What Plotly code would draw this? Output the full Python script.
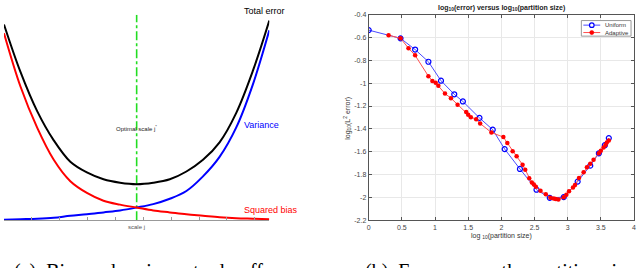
import plotly.graph_objects as go

W, H = 640, 268

# ---------------- Left panel: bias / variance trade-off (schematic) ----------------
scale_j = [0, 0.5, 1, 1.5, 2, 2.5, 3, 3.5, 4, 4.5, 5, 5.5, 6, 6.5, 7, 7.5, 8]
squared_bias = [192, 137, 95, 62, 40, 28, 20, 16, 13, 10, 8, 6, 4.5, 3, 2, 1.5, 1]
variance = [0.5, 1, 1.5, 2.5, 4.5, 6, 8, 10, 13, 16.5, 22, 30, 45, 65, 95, 139, 195]
total_error = [201, 152, 112, 82, 60, 49, 42, 38.5, 37, 38.5, 42, 50, 62, 80, 110, 153, 205]
optimal_j = 4
left_ticks = [0.84, 1.68, 2.52, 3.36, 4.2, 5.04, 5.88, 6.72, 7.56]

# ---------------- Right panel: error vs partition size ----------------
uniform_x = [0.0, 0.48, 0.70, 0.90, 1.09, 1.29, 1.42, 1.67, 1.87, 2.05, 2.28, 2.53,
             2.73, 2.94, 3.15, 3.34, 3.47, 3.56, 3.62]
uniform_y = [-0.535, -0.607, -0.705, -0.812, -0.978, -1.097, -1.16, -1.304, -1.407,
             -1.577, -1.751, -1.933, -2.004, -1.998, -1.862, -1.722, -1.614, -1.543, -1.481]
adaptive_x = [0.30, 0.48, 0.60, 0.70, 0.90, 0.96, 1.01, 1.05, 1.15, 1.24, 1.34, 1.47,
              1.50, 1.54, 1.62, 1.68, 1.85, 2.03, 2.09, 2.17, 2.23, 2.32, 2.36, 2.42,
              2.46, 2.49, 2.52, 2.59, 2.67, 2.74, 2.79, 2.82, 2.86, 2.94, 2.98, 3.02,
              3.08, 3.11, 3.17, 3.24, 3.29, 3.34, 3.39, 3.47, 3.50, 3.54, 3.57, 3.59, 3.62]
adaptive_y = [-0.579, -0.607, -0.693, -0.756, -0.938, -0.98, -0.997, -1.023, -1.091,
              -1.131, -1.188, -1.253, -1.276, -1.298, -1.316, -1.353, -1.432, -1.472,
              -1.524, -1.597, -1.64, -1.714, -1.757, -1.833, -1.87, -1.887, -1.908,
              -1.942, -1.973, -2.004, -2.01, -2.015, -2.019, -1.998, -1.976, -1.947,
              -1.913, -1.891, -1.831, -1.78, -1.737, -1.705, -1.671, -1.614, -1.592,
              -1.563, -1.541, -1.52, -1.501]
x_ticks = [0, 0.5, 1, 1.5, 2, 2.5, 3, 3.5, 4]
x_ticklabels = ["0", "0.5", "1", "1.5", "2", "2.5", "3", "3.5", "4"]
y_ticks = [-0.4, -0.6, -0.8, -1.0, -1.2, -1.4, -1.6, -1.8, -2.0, -2.2]
y_ticklabels = ["-0.4", "-0.6", "-0.8", "-1", "-1.2", "-1.4", "-1.6", "-1.8", "-2", "-2.2"]
legend_names = ["Uniform", "Adaptive"]

BLUE = "#0000ff"
RED = "#ff0000"


def px_x(p):
    return p / W


def px_y(p):
    return (H - p) / H


fig = go.Figure()

# left panel curves
fig.add_trace(go.Scatter(x=[optimal_j, optimal_j], y=[0, 211], mode="lines",
                         line=dict(color="#22dd22", width=1.6, dash="dashdot"),
                         xaxis="x", yaxis="y", showlegend=False))
fig.add_trace(go.Scatter(x=scale_j, y=variance, mode="lines", line_shape="spline",
                         line=dict(color=BLUE, width=2), xaxis="x", yaxis="y",
                         showlegend=False))
fig.add_trace(go.Scatter(x=scale_j, y=squared_bias, mode="lines", line_shape="spline",
                         line=dict(color=RED, width=2), xaxis="x", yaxis="y",
                         showlegend=False))
fig.add_trace(go.Scatter(x=scale_j, y=total_error, mode="lines", line_shape="spline",
                         line=dict(color="#000000", width=2), xaxis="x", yaxis="y",
                         showlegend=False))

# right panel
fig.add_trace(go.Scatter(x=uniform_x, y=uniform_y, mode="lines+markers", name=legend_names[0],
                         line=dict(color="#4a4aff", width=1),
                         marker=dict(symbol="circle-open", size=5, color=BLUE,
                                     line=dict(width=1.2, color=BLUE)),
                         xaxis="x2", yaxis="y2", showlegend=False))
fig.add_trace(go.Scatter(x=adaptive_x, y=adaptive_y, mode="lines+markers", name=legend_names[1],
                         line=dict(color="#ff5050", width=1),
                         marker=dict(symbol="circle", size=4.5, color=RED),
                         xaxis="x2", yaxis="y2", showlegend=False))

ydom = [px_y(222), px_y(11)]

fig.update_layout(
    width=W, height=H,
    margin=dict(l=0, r=0, t=0, b=0),
    paper_bgcolor="white", plot_bgcolor="white",
    font=dict(family="Liberation Sans, Arial, sans-serif", color="#333333"),
    showlegend=False,
    xaxis=dict(domain=[px_x(2), px_x(269)], range=[0, 8], showgrid=False, zeroline=False,
               showline=True, linecolor="#999999", linewidth=1,
               tickvals=left_ticks, showticklabels=False,
               ticks="inside", ticklen=3, tickcolor="#999999", anchor="y"),
    yaxis=dict(domain=ydom, range=[0, 211], visible=False, anchor="x"),
    xaxis2=dict(domain=[px_x(369), px_x(636)], range=[0, 4], anchor="y2",
                tickvals=x_ticks, ticktext=x_ticklabels,
                showgrid=True, gridcolor="#e8e8e8", gridwidth=1, zeroline=False,
                showline=True, linecolor="#555555", linewidth=1, mirror="allticks",
                ticks="inside", ticklen=3, tickcolor="#555555",
                tickfont=dict(size=7, color="#444444")),
    yaxis2=dict(domain=ydom, range=[-2.2, -0.4], anchor="x2",
                tickvals=y_ticks, ticktext=y_ticklabels,
                showgrid=True, gridcolor="#e8e8e8", gridwidth=1, zeroline=False,
                showline=True, linecolor="#555555", linewidth=1, mirror="allticks",
                ticks="inside", ticklen=3, tickcolor="#555555",
                tickfont=dict(size=7, color="#444444")),
)

# compact legend box (like MATLAB's) built from shapes and text
shapes = [
    dict(type="rect", xref="paper", yref="paper", x0=px_x(583), x1=px_x(633),
         y0=px_y(33), y1=px_y(17), line=dict(color="#999999", width=1), fillcolor="white"),
    dict(type="line", xref="paper", yref="paper", x0=px_x(585), x1=px_x(602),
         y0=px_y(21.7), y1=px_y(21.7), line=dict(color="#4a4aff", width=1)),
    dict(type="line", xref="paper", yref="paper", x0=px_x(585), x1=px_x(602),
         y0=px_y(29.3), y1=px_y(29.3), line=dict(color="#ff5050", width=1)),
    dict(type="circle", xref="paper", yref="paper", xsizemode="pixel", ysizemode="pixel",
         xanchor=px_x(593.5), yanchor=px_y(21.7), x0=-2.3, x1=2.3, y0=-2.3, y1=2.3,
         line=dict(color=BLUE, width=1.2), fillcolor="white"),
    dict(type="circle", xref="paper", yref="paper", xsizemode="pixel", ysizemode="pixel",
         xanchor=px_x(593.5), yanchor=px_y(29.3), x0=-2.1, x1=2.1, y0=-2.1, y1=2.1,
         line=dict(color=RED, width=0.5), fillcolor=RED),
]

ann = []
ann.append(dict(text=legend_names[0], x=px_x(605), y=px_y(21.7), xanchor="left",
                yanchor="middle", font=dict(size=6, color="#333333")))
ann.append(dict(text=legend_names[1], x=px_x(605), y=px_y(29.3), xanchor="left",
                yanchor="middle", font=dict(size=6, color="#333333")))
# left panel labels
ann.append(dict(text="Total error", x=px_x(242), y=px_y(7), xanchor="left", yanchor="middle",
                font=dict(size=9, color="black")))
ann.append(dict(text="Variance", x=px_x(242), y=px_y(124), xanchor="left", yanchor="middle",
                font=dict(size=9, color=BLUE)))
ann.append(dict(text="Squared bias", x=px_x(242), y=px_y(212), xanchor="left", yanchor="middle",
                font=dict(size=9, color=RED)))
ann.append(dict(text="Optimal scale j<sup>*</sup>", x=px_x(135), y=px_y(127), xanchor="center",
                yanchor="middle", font=dict(size=6, color="#222222")))
ann.append(dict(text="scale j", x=px_x(135), y=px_y(229), xanchor="center", yanchor="middle",
                font=dict(size=6, color="#555555")))
# right panel texts
ann.append(dict(text="<b>log<sub>10</sub>(error) versus log<sub>10</sub>(partition size)</b>",
                x=px_x(503), y=px_y(4), xanchor="center", yanchor="middle",
                font=dict(size=7, color="#222222")))
ann.append(dict(text="log <sub>10</sub>(partition size)", x=px_x(503), y=px_y(238),
                xanchor="center", yanchor="middle", font=dict(size=7, color="#333333")))
ann.append(dict(text="log<sub>10</sub>(L<sup>2</sup> error)", x=px_x(348), y=px_y(117),
                xanchor="center", yanchor="middle", textangle=-90,
                font=dict(size=7, color="#333333")))
# captions (cut off at the bottom of the image, as in the reference)
ann.append(dict(text="(a)  Bias and variance trade-off", x=px_x(10), y=px_y(261),
                xanchor="left", yanchor="top",
                font=dict(size=20, color="black", family="Liberation Serif, serif")))
ann.append(dict(text="(b)  Error versus the partition size", x=px_x(363), y=px_y(261),
                xanchor="left", yanchor="top",
                font=dict(size=20, color="black", family="Liberation Serif, serif")))

for a in ann:
    a.update(xref="paper", yref="paper", showarrow=False)
fig.update_layout(annotations=ann, shapes=shapes)

fig.write_html("out.html", config={"displayModeBar": False},
               post_script="document.body.style.margin='0';document.body.style.overflow='hidden';")
